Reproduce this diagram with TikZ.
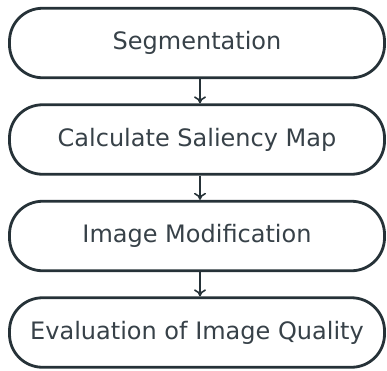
\documentclass[tikz,border=0pt]{standalone}
\usepackage{fontspec}
\setmainfont{DejaVu Sans}
\usetikzlibrary{arrows.meta,positioning}
\definecolor{linecolor}{RGB}{38,50,56}
\definecolor{textcolor}{RGB}{55,65,72}

\begin{document}
\begin{tikzpicture}[
    x=1pt, y=1pt,
    node distance=24.2pt,
    stage/.style={rectangle, draw=linecolor, line width=2.8pt, rounded corners=33pt,
        minimum width=375pt, minimum height=69.5pt, text=textcolor,
        font=\fontsize{24}{28}\selectfont},
    arrow/.style={-{To[length=7pt, width=12pt, line width=1.6pt]}, line width=2pt, draw=linecolor}
]
    \useasboundingbox (0,0) rectangle (387,-370);

    % Processing stages
    \node[stage] (seg) at (197,-43) {Segmentation};
    \node[stage, below=of seg] (saliency) {Calculate Saliency Map};
    \node[stage, below=of saliency] (modify) {Image Modification};
    \node[stage, below=of modify] (quality) {Evaluation of Image Quality};

    \draw[arrow] ([xshift=3pt]seg.south) -- ([xshift=3pt]saliency.north);
    \draw[arrow] ([xshift=3pt]saliency.south) -- ([xshift=3pt]modify.north);
    \draw[arrow] ([xshift=3pt]modify.south) -- ([xshift=3pt]quality.north);
\end{tikzpicture}
\end{document}
